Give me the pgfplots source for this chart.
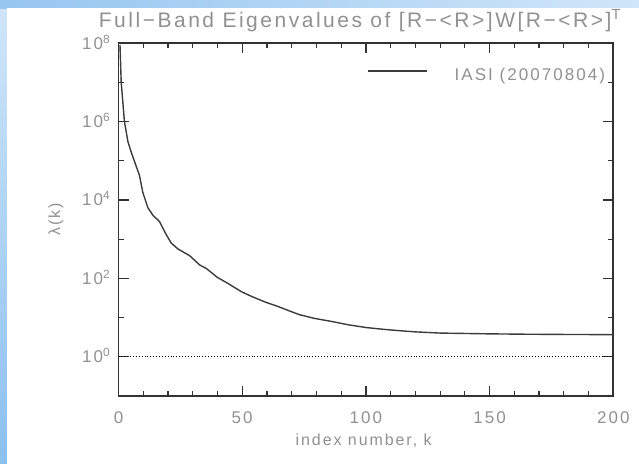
\documentclass[border=0pt]{standalone}
\usepackage{fontspec}
\setmainfont{Liberation Sans}[LetterSpace=12]
\usepackage{pgfplots}
\pgfplotsset{compat=1.18}
\definecolor{axgray}{RGB}{50,50,50}
\definecolor{txtgray}{RGB}{145,145,145}
\definecolor{curvegray}{RGB}{60,60,60}
\definecolor{bgblue}{RGB}{140,192,238}
\definecolor{bgblue2}{RGB}{208,230,249}

\begin{document}
\begin{tikzpicture}
\useasboundingbox (0,0) rectangle (639bp,464bp);
% slide background
\shade[top color=bgblue2, bottom color=bgblue] (0,0) rectangle (639bp,464bp);
\shade[left color=bgblue!85!bgblue2, right color=bgblue2] (0,455bp) rectangle (639bp,464bp);
\fill[white] (7.3bp,0) rectangle (639bp,456bp);
\begin{axis}[
  at={(118.5bp,68.3bp)}, anchor=south west,
  scale only axis, width=494.8bp, height=352.3bp,
  xmin=0, xmax=200,
  ymode=log, ymin=0.1, ymax=1e8,
  axis line style={axgray, line width=1.9bp},
  xtick={0,50,100,150,200},
  xticklabels={0,50,100,150,200},
  minor xtick={10,20,30,40,60,70,80,90,110,120,130,140,160,170,180,190},
  ytick={1,100,1e4,1e6,1e8},
  yticklabels={10\textsuperscript{0},10\textsuperscript{2},10\textsuperscript{4},10\textsuperscript{6},10\textsuperscript{8}},
  minor ytick={0.1,10,1000,1e5,1e7},
  major tick length=10bp, minor tick length=5bp,
  tick align=inside,
  every tick/.style={axgray, line width=1.2bp},
  ticklabel style={font=\fontsize{17bp}{19bp}\selectfont, text=txtgray, inner sep=0pt},
  xticklabel style={anchor=base, yshift=-27.5bp},
  yticklabel style={anchor=base east, xshift=-8bp, yshift=-6bp},
  xlabel={index number, k},
  xlabel style={at={(axis description cs:0.4955,0)}, anchor=base, yshift=-49.3bp,
    font=\fontsize{16bp}{18bp}\selectfont, text=txtgray, inner sep=0pt},
  ylabel={λ(k)},
  ylabel style={at={(axis description cs:-0.1263,0.5)}, anchor=center,
    font=\fontsize{16bp}{18bp}\selectfont, text=txtgray, inner sep=0pt},
  title={Full−Band Eigenvalues of [R−<R>]W[R−<R>]\textsuperscript{T}},
  title style={at={(axis description cs:0.488,1)}, anchor=base, yshift=10.1bp,
    font=\fontsize{21bp}{23bp}\selectfont, text=txtgray, inner sep=0pt},
  legend style={at={(axis description cs:0.9832,0.9103)}, anchor=east,
    draw=none, fill=none, inner sep=0pt, outer sep=0pt,
    font=\fontsize{17bp}{19bp}\selectfont, text=txtgray,
    nodes={inner sep=0pt}},
  legend image code/.code={
    \draw[#1] (0bp,4bp) -- (59bp,4bp);
    \path[draw=none] (0bp,0bp) -- (87bp,0bp);
  },
]
\addplot[curvegray, line width=1.4bp] coordinates {
  (0.6, 9.1e7) (1.1, 1.0e7) (2.4, 1.0e6) (3.8, 3.1e5) (5.0, 1.78e5)
  (6.5, 9.5e4) (8.5, 4.2e4) (9.8, 1.58e4) (11.9, 6.3e3) (14, 4.0e3)
  (16.6, 2.8e3) (19, 1.41e3) (21.3, 794) (24, 562) (28.7, 380)
  (32.8, 219) (35.5, 178) (40, 105) (44.2, 74) (49.6, 45.7)
  (54, 33.9) (59.8, 24.0) (64, 19.5) (68.9, 14.8) (73.2, 11.7)
  (78.8, 9.55) (86.7, 7.76) (93, 6.46) (100.2, 5.50) (108, 4.90)
  (113.7, 4.57) (120, 4.27) (130, 3.98) (140, 3.89) (150, 3.80)
  (165, 3.72) (180, 3.67) (200, 3.63)
};
\addlegendentry{IASI (20070804)}
\addplot[black, dotted, line width=0.9bp, forget plot] coordinates {(0,1) (200,1)};
\end{axis}
\end{tikzpicture}
\end{document}
